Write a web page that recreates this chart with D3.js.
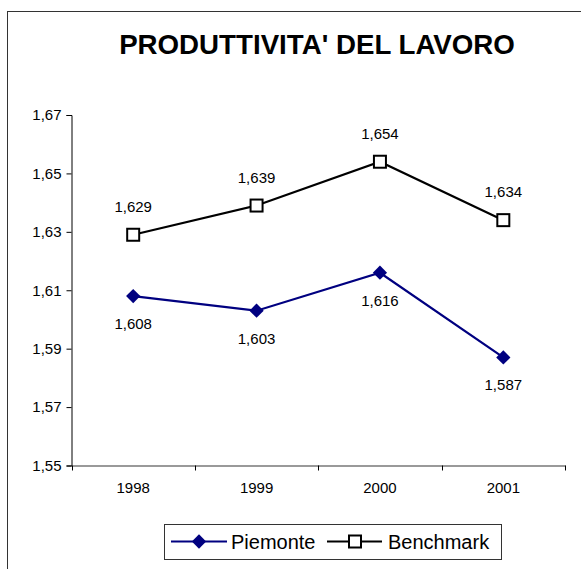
<!DOCTYPE html>
<html>
<head>
<meta charset="utf-8">
<script src="https://cdn.jsdelivr.net/npm/d3@7"></script>
<style>
  body { margin: 0; background: #fff; }
  text { font-family: Arial, "Liberation Sans", sans-serif; }
</style>
</head>
<body>
<svg id="chart" width="581" height="569"></svg>
<script>
// data
const years = ["1998", "1999", "2000", "2001"];
const piemonte = [1.608, 1.603, 1.616, 1.587];
const benchmark = [1.629, 1.639, 1.654, 1.634];
const yTicks = [1.55, 1.57, 1.59, 1.61, 1.63, 1.65, 1.67];

const svg = d3.select("#chart");
const fmt = v => d3.format(".3f")(v).replace(".", ",");
const fmtTick = v => d3.format(".2f")(v).replace(".", ",");

// outer frame
svg.append("rect")
    .attr("x", 7.5).attr("y", 11.5)
    .attr("width", 600).attr("height", 600)
    .attr("fill", "white")
    .attr("stroke", "#333")
    .attr("stroke-width", 1);

svg.append("text")
    .text("PRODUTTIVITA' DEL LAVORO")
    .attr("x", 317).attr("y", 54)
    .attr("text-anchor", "middle")
    .attr("font-size", 27.7)
    .attr("font-weight", "bold");

const plot = { left: 71.5, right: 565, top: 115, bottom: 465.5 };

const x = d3.scaleBand().domain(years).range([plot.left, plot.right]);
const y = d3.scaleLinear().domain([1.55, 1.67]).range([plot.bottom, plot.top]);

// y axis
const yAxis = svg.append("g")
    .attr("transform", `translate(${plot.left},0)`)
    .call(d3.axisLeft(y).tickValues(yTicks).tickFormat(fmtTick).tickSize(5).tickPadding(5));
yAxis.select(".domain").attr("stroke", "#000");
yAxis.selectAll("line").attr("stroke", "#000");
yAxis.selectAll("text").attr("font-size", 15).attr("fill", "#000")
    .attr("font-family", "Arial, 'Liberation Sans', sans-serif");

// x axis
const xAxis = svg.append("g")
    .attr("transform", `translate(0,${plot.bottom})`)
    .call(d3.axisBottom(x).tickSize(0).tickPadding(17));
xAxis.select(".domain").attr("stroke", "#777").attr("stroke-width", 1.5);
xAxis.selectAll("text").attr("font-size", 15).attr("fill", "#000")
    .attr("font-family", "Arial, 'Liberation Sans', sans-serif");
// tick marks at category boundaries
const bounds = years.map(d => x(d)).concat([plot.right]);
svg.append("g").selectAll("line").data(bounds).join("line")
    .attr("x1", d => Math.round(d) + 0.5).attr("x2", d => Math.round(d) + 0.5)
    .attr("y1", plot.bottom).attr("y2", plot.bottom + 5)
    .attr("stroke", "#000");

const cx = d => x(d) + x.bandwidth() / 2;
const line = d3.line().x((d, i) => cx(years[i])).y(d => y(d));

// benchmark series
svg.append("path").datum(benchmark)
    .attr("d", line).attr("fill", "none")
    .attr("stroke", "#000").attr("stroke-width", 2.2);
svg.append("g").selectAll("rect").data(benchmark).join("rect")
    .attr("x", (d, i) => cx(years[i]) - 6).attr("y", d => y(d) - 6)
    .attr("width", 12).attr("height", 12)
    .attr("fill", "white").attr("stroke", "#000").attr("stroke-width", 2);
svg.append("g").selectAll("text").data(benchmark).join("text")
    .text(fmt)
    .attr("x", (d, i) => cx(years[i])).attr("y", d => y(d) - 23)
    .attr("text-anchor", "middle").attr("font-size", 15);

// piemonte series
const navy = "#000080";
svg.append("path").datum(piemonte)
    .attr("d", line).attr("fill", "none")
    .attr("stroke", navy).attr("stroke-width", 2.2);
svg.append("g").selectAll("path").data(piemonte).join("path")
    .attr("d", d3.symbol(d3.symbolDiamond2, 130))
    .attr("transform", (d, i) => `translate(${cx(years[i])},${y(d)})`)
    .attr("fill", navy);
svg.append("g").selectAll("text").data(piemonte).join("text")
    .text(fmt)
    .attr("x", (d, i) => cx(years[i])).attr("y", d => y(d) + 33)
    .attr("text-anchor", "middle").attr("font-size", 15);

// legend
const lg = svg.append("g");
lg.append("rect")
    .attr("x", 164.5).attr("y", 524.5).attr("width", 337).attr("height", 35)
    .attr("fill", "white").attr("stroke", "#333");
const ly = 541.5;
lg.append("line").attr("x1", 171).attr("x2", 227).attr("y1", ly).attr("y2", ly)
    .attr("stroke", navy).attr("stroke-width", 2);
lg.append("path").attr("d", d3.symbol(d3.symbolDiamond2, 130))
    .attr("transform", `translate(199,${ly})`).attr("fill", navy);
lg.append("text").text("Piemonte").attr("x", 231).attr("y", ly + 7).attr("font-size", 20);
lg.append("line").attr("x1", 327).attr("x2", 382).attr("y1", ly).attr("y2", ly)
    .attr("stroke", "#000").attr("stroke-width", 2);
lg.append("rect").attr("x", 349).attr("y", ly - 6).attr("width", 12).attr("height", 12)
    .attr("fill", "white").attr("stroke", "#000").attr("stroke-width", 2);
lg.append("text").text("Benchmark").attr("x", 388).attr("y", ly + 7).attr("font-size", 20);
</script>
</body>
</html>
